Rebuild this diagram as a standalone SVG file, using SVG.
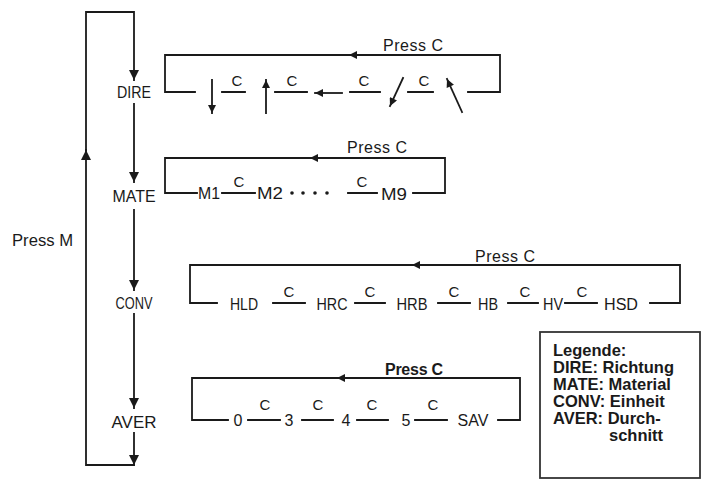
<svg xmlns="http://www.w3.org/2000/svg" width="703" height="479" viewBox="0 0 703 479">
<style>
.ln{fill:none;stroke:#1a1a1a;stroke-width:1.8;stroke-linecap:square}
.t{font-family:"Liberation Sans",Arial,sans-serif;fill:#1a1a1a}
.node{font-size:17px;text-anchor:middle}
.lab{font-size:16px;text-anchor:middle}
.pc{font-size:16px}
.c{font-size:15px;text-anchor:middle}
.leg{font-size:16.5px;font-weight:bold}
</style>
<defs>
<marker id="ah" viewBox="0 0 10 10" refX="10" refY="5" markerWidth="10" markerHeight="10" markerUnits="userSpaceOnUse" orient="auto"><path d="M0,0 L10,5 L0,10 z" fill="#1a1a1a"/></marker>
<marker id="as" viewBox="0 0 10 10" refX="10" refY="5" markerWidth="9" markerHeight="8" markerUnits="userSpaceOnUse" orient="auto"><path d="M0,0 L10,5 L0,10 z" fill="#1a1a1a"/></marker>
</defs>

<g id="connectors">
  <path class="ln" d="M86,150 V12 H134 V80" marker-end="url(#ah)"/>
  <path class="ln" d="M134,465 H86 V150" marker-end="url(#ah)"/>
  <path class="ln" d="M134,104 V182" marker-end="url(#ah)"/>
  <path class="ln" d="M134,210 V290" marker-end="url(#ah)"/>
  <path class="ln" d="M134,314 V408" marker-end="url(#ah)"/>
  <path class="ln" d="M134,433 V465" marker-end="url(#ah)"/>

  <path class="ln" d="M468,92 H500 V55 H349" marker-end="url(#as)"/>
  <path class="ln" d="M349,55 H165 V92 H195"/>
  <path class="ln" d="M222,92 H245 M275,92 H307 M350,92 H380 M408,92 H433"/>

  <path class="ln" d="M413,193 H445 V158 H310" marker-end="url(#as)"/>
  <path class="ln" d="M310,158 H165 V193 H197"/>
  <path class="ln" d="M222,193 H255 M348,193 H377"/>

  <path class="ln" d="M650,303 H680 V265 H412" marker-end="url(#as)"/>
  <path class="ln" d="M412,265 H190 V303 H217"/>
  <path class="ln" d="M273,303 H305 M355,303 H385 M438,303 H470 M508,303 H538 M565,303 H597"/>

  <path class="ln" d="M498,420 H520 V378 H337" marker-end="url(#as)"/>
  <path class="ln" d="M337,378 H192 V420 H228"/>
  <path class="ln" d="M248,420 H280 M302,420 H333 M357,420 H388 M415,420 H447"/>
</g>

<g id="dire-symbols">
  <path class="ln" d="M212,80 V113" marker-end="url(#as)"/>
  <path class="ln" d="M266,113 V80" marker-end="url(#as)"/>
  <path class="ln" d="M342,93 H315" marker-end="url(#as)"/>
  <path class="ln" d="M403,78 L390,106" marker-end="url(#as)"/>
  <path class="ln" d="M462,112 L447,79" marker-end="url(#as)"/>
</g>

<g id="node-dire"><text class="t node" x="134" y="98" textLength="34" lengthAdjust="spacingAndGlyphs">DIRE</text></g>
<g id="node-mate"><text class="t node" x="134" y="202" textLength="43" lengthAdjust="spacingAndGlyphs">MATE</text></g>
<g id="node-conv"><text class="t node" x="134" y="309" textLength="37" lengthAdjust="spacingAndGlyphs">CONV</text></g>
<g id="node-aver"><text class="t node" x="134" y="428" textLength="45" lengthAdjust="spacingAndGlyphs">AVER</text></g>

<g id="press-m"><text class="t" x="12" y="246" font-size="16" textLength="61" lengthAdjust="spacingAndGlyphs">Press M</text></g>

<g id="dire-row">
  <text class="t pc" x="383" y="51" textLength="60">Press C</text>
  <text class="t c" x="237" y="86">C</text>
  <text class="t c" x="292" y="86">C</text>
  <text class="t c" x="364" y="86">C</text>
  <text class="t c" x="424" y="86">C</text>
</g>

<g id="mate-row">
  <text class="t pc" x="347" y="153" textLength="60">Press C</text>
  <text class="t lab" x="209" y="199" textLength="22" lengthAdjust="spacingAndGlyphs">M1</text>
  <text class="t c" x="239" y="187">C</text>
  <text class="t lab" x="270" y="199" textLength="26" lengthAdjust="spacingAndGlyphs">M2</text>
  <circle cx="292" cy="193" r="1.8" fill="#1a1a1a"/>
  <circle cx="303" cy="193" r="1.8" fill="#1a1a1a"/>
  <circle cx="315" cy="193" r="1.8" fill="#1a1a1a"/>
  <circle cx="327" cy="193" r="1.8" fill="#1a1a1a"/>
  <text class="t c" x="362" y="187">C</text>
  <text class="t lab" x="394" y="200" textLength="26" lengthAdjust="spacingAndGlyphs">M9</text>
</g>

<g id="conv-row">
  <text class="t pc" x="475" y="262" textLength="60">Press C</text>
  <text class="t lab" x="244" y="310" textLength="28" lengthAdjust="spacingAndGlyphs">HLD</text>
  <text class="t c" x="289" y="297">C</text>
  <text class="t lab" x="332" y="310" textLength="31" lengthAdjust="spacingAndGlyphs">HRC</text>
  <text class="t c" x="370" y="297">C</text>
  <text class="t lab" x="412" y="310" textLength="31" lengthAdjust="spacingAndGlyphs">HRB</text>
  <text class="t c" x="454" y="297">C</text>
  <text class="t lab" x="488" y="310" textLength="20" lengthAdjust="spacingAndGlyphs">HB</text>
  <text class="t c" x="525" y="297">C</text>
  <text class="t lab" x="553" y="310" textLength="20" lengthAdjust="spacingAndGlyphs">HV</text>
  <text class="t c" x="582" y="297">C</text>
  <text class="t lab" x="621" y="310" textLength="34" lengthAdjust="spacingAndGlyphs">HSD</text>
</g>

<g id="aver-row">
  <text class="t pc" x="385" y="375" textLength="58" font-weight="bold">Press C</text>
  <text class="t lab" x="238" y="426">0</text>
  <text class="t c" x="265" y="410" font-size="18">C</text>
  <text class="t lab" x="289" y="426">3</text>
  <text class="t c" x="318" y="410" font-size="18">C</text>
  <text class="t lab" x="346" y="426">4</text>
  <text class="t c" x="372" y="410" font-size="18">C</text>
  <text class="t lab" x="406" y="426">5</text>
  <text class="t c" x="433" y="410" font-size="18">C</text>
  <text class="t lab" x="473" y="426">SAV</text>
</g>

<g id="legend">
  <rect x="540" y="332" width="160" height="146" fill="#fff" stroke="#333" stroke-width="1.8"/>
  <text class="t leg" x="553" y="356">Legende:</text>
  <text class="t leg" x="553" y="373">DIRE: Richtung</text>
  <text class="t leg" x="553" y="390">MATE: Material</text>
  <text class="t leg" x="553" y="407">CONV: Einheit</text>
  <text class="t leg" x="553" y="424">AVER: Durch-</text>
  <text class="t leg" x="609" y="441">schnitt</text>
</g>
</svg>
